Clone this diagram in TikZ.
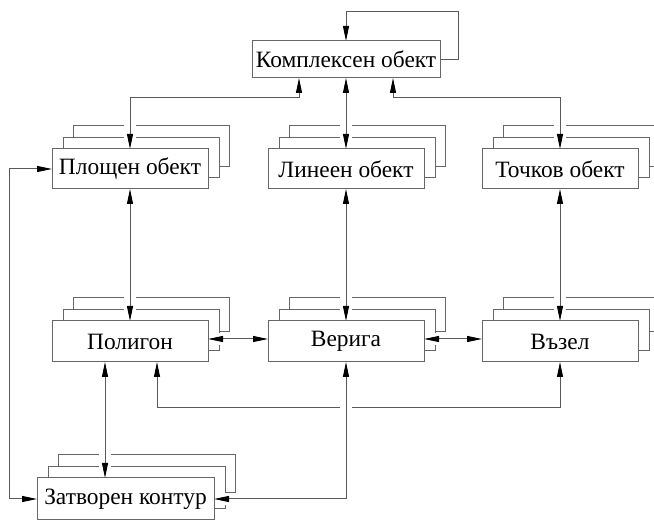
\documentclass[tikz,border=0pt]{standalone}
\usepackage{fontspec}
\setmainfont{Liberation Serif}
\usetikzlibrary{arrows.meta,calc}
\pgfdeclarelayer{back}
\pgfdeclarelayer{mid}
\pgfsetlayers{back,mid,main}
\tikzset{
  box/.style={draw=black!60, line width=0.5pt, fill=white, inner sep=0pt, outer sep=0pt,
    minimum width=78pt, minimum height=20pt, font=\fontsize{11.7}{13}\selectfont},
  copybox/.style={draw=black!60, line width=0.5pt, fill=white},
  conn/.style={draw=black!65, line width=0.5pt},
  casing/.style={draw=white, line width=6pt},
  >={Triangle[length=7.5pt,width=3pt,color=black]},
}
\newcommand\linkpath[2]{\draw[casing] #2; \draw[conn,#1] #2;}
\begin{document}
\begin{tikzpicture}[x=0.5pt,y=-0.5pt]
\useasboundingbox (0,0) rectangle (654,523);
% main boxes
\node[box, minimum width=94pt, minimum height=18.5pt] (K) at (346,59.5) {Комплексен обект};
\node[box] (A) at (130,169) {Площен обект};
\node[box] (L) at (346,169) {Линеен обект};
\node[box] (T) at (560,169) {Точков обект};
\node[box, minimum height=20.5pt] (P) at (130,341.5) {Полигон};
\node[box, minimum height=20.5pt] (V) at (346,341.5) {Верига};
\node[box, minimum height=20.5pt] (U) at (560,341.5) {Възел};
\node[box, minimum width=88.5pt, minimum height=21pt] (Z) at (125.5,499) {Затворен контур};
% stacked copies
\begin{pgfonlayer}{back}
\foreach \n in {A,L,T}{
  \draw[copybox] ([shift={(21,-23)}]\n.north west) rectangle ([shift={(21,-22)}]\n.south east);
  \draw[copybox] ([shift={(11,-11)}]\n.north west) rectangle ([shift={(11,-11)}]\n.south east);
}
\foreach \n in {P,V,U}{
  \draw[copybox] ([shift={(21,-23)}]\n.north west) rectangle ([shift={(21,-30)}]\n.south east);
  \draw[copybox] ([shift={(11,-11.5)}]\n.north west) rectangle ([shift={(11,-11.5)}]\n.south east);
}
\draw[copybox] ([shift={(21,-23)}]Z.north west) rectangle ([shift={(21,-27)}]Z.south east);
\draw[copybox] ([shift={(11,-11.5)}]Z.north west) rectangle ([shift={(11,-11.5)}]Z.south east);
\end{pgfonlayer}
% connectors
\begin{pgfonlayer}{mid}
\coordinate (kA) at ([shift={(-47,0)}]K.south);
\coordinate (kT) at ([shift={(47,0)}]K.south);
\coordinate (pU) at ([shift={(27,0)}]P.south);
\coordinate (pZ) at ([shift={(-25,0)}]P.south);
\coordinate (pE) at ([shift={(0,-2.5)}]P.east);
\coordinate (vW) at ([shift={(0,-2.5)}]V.west);
\coordinate (vE) at ([shift={(0,-2.5)}]V.east);
\coordinate (uW) at ([shift={(0,-2.5)}]U.west);
\linkpath{->}{(K.east) -- ++(18,0) -- ++(0,-48) -| (K.north)}
\linkpath{<->}{(kA) -- ++(0,20) -| (A.north)}
\linkpath{<->}{(K.south) -- (L.north)}
\linkpath{<->}{(kT) -- ++(0,20) -| (T.north)}
\linkpath{<->}{(A.south) -- (P.north)}
\linkpath{<->}{(L.south) -- (V.north)}
\linkpath{<->}{(T.south) -- (U.north)}
\linkpath{<->}{(pE) -- (vW)}
\linkpath{<->}{(vE) -- (uW)}
\linkpath{<->}{(pU) -- ++(0,46) -| (U.south)}
\linkpath{<->}{(pZ) -- (pZ |- Z.north)}
\linkpath{<->}{(Z.west) -- ++(-28,0) |- (A.west)}
\linkpath{<->}{(V.south) -- (V.south |- Z.east) -- (Z.east)}
\end{pgfonlayer}
\end{tikzpicture}
\end{document}
